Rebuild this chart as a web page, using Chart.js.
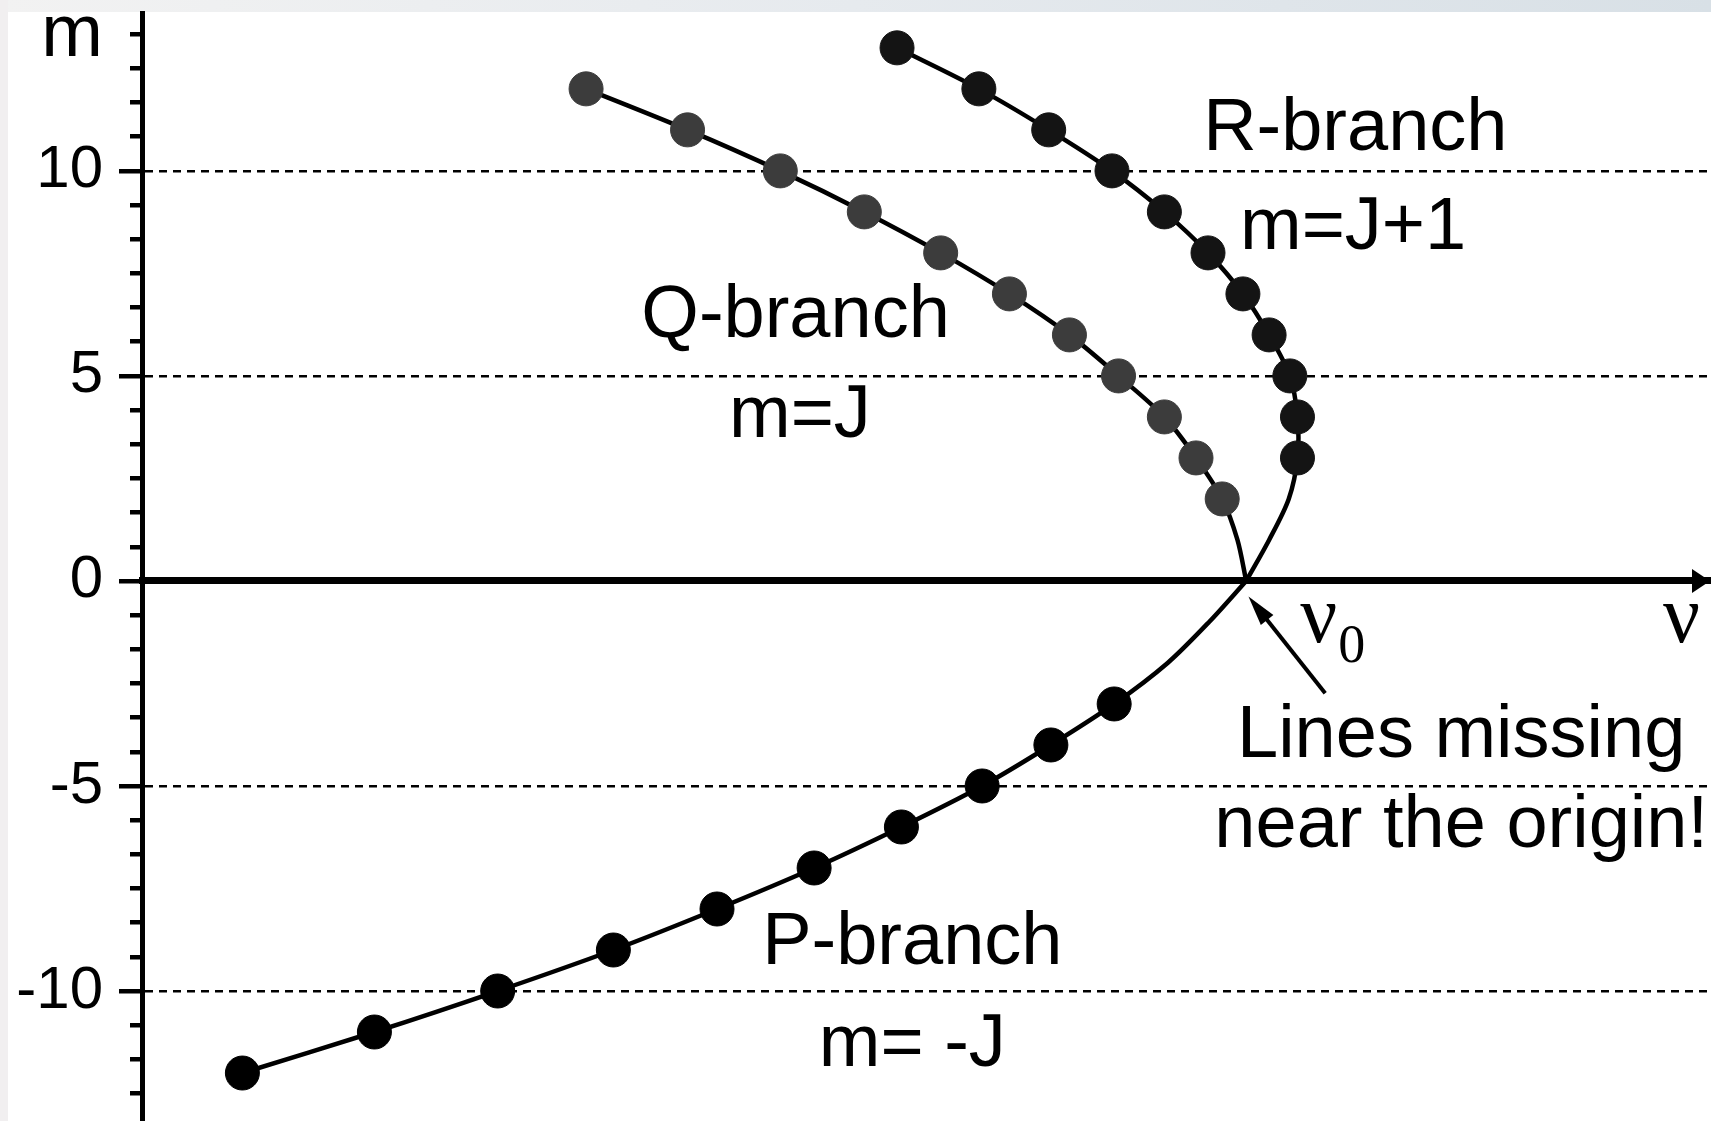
<!DOCTYPE html>
<html>
<head>
<meta charset="utf-8">
<script src="https://cdn.jsdelivr.net/npm/chart.js@4.4.1/dist/chart.umd.min.js"></script>
<style>
  html, body { margin: 0; padding: 0; background: #fff; }
</style>
</head>
<body>
<canvas id="branchChart" width="1711" height="1121"></canvas>
<script>
// m values and line positions (nu - nu0, arbitrary units) for each branch
var rBranchM = [13, 12, 11, 10, 9, 8, 7, 6, 5, 4, 3];
var rBranchNu = [-32.0, -24.5, -18.1, -12.3, -7.5, -3.5, -0.3, 2.1, 4.0, 4.7, 4.7];
var qBranchM = [12, 11, 10, 9, 8, 7, 6, 5, 4, 3, 2];
var qBranchNu = [-60.5, -51.2, -42.7, -35.0, -28.0, -21.7, -16.2, -11.7, -7.5, -4.6, -2.2];
var pBranchM = [-12, -11, -10, -9, -8, -7, -6, -5, -4, -3];
var pBranchNu = [-92.0, -79.9, -68.6, -58.0, -48.5, -39.6, -31.6, -24.2, -17.9, -12.1];

// where the curves run into the origin (no lines there)
var rGapM = [2, 1, 0];
var rGapNu = [3.9, 2.1, 0];
var qGapM = [1, 0];
var qGapNu = [-0.8, 0];
var pGapM = [-2, -1, 0];
var pGapNu = [-7.2, -3.4, 0];

var yTickLabels = [-10, -5, 0, 5, 10];
var yTickStep = 5 / 6;   // minor ticks: six per five units, as in the figure

var notes = [
  { text: 'R-branch', nu: 10.0, m: 10.5 },
  { text: 'm=J+1', nu: 9.8, m: 8.1 },
  { text: 'Q-branch', nu: -41.3, m: 5.95 },
  { text: 'm=J', nu: -40.9, m: 3.5 },
  { text: 'P-branch', nu: -30.6, m: -9.35 },
  { text: 'm= -J', nu: -30.6, m: -11.82 },
  { text: 'Lines missing', nu: 19.7, m: -4.3 },
  { text: 'near the origin!', nu: 19.7, m: -6.5 }
];
var nuLabels = [
  { sub: '0', nu: 4.95, m: -1.49 },
  { sub: '', nu: 38.2, m: -1.49 }
];
var pointer = { fromNu: 7.24, fromM: -2.74, toNu: 0.21, toM: -0.38 };

var yTicks = [];
for (var k = -15; k <= 16; k++) yTicks.push(Math.round(k * yTickStep * 1e6) / 1e6);

function isMajor(v) {
  var r = Math.round(v);
  return Math.abs(v - r) < 1e-6 && r % 5 === 0;
}

function toPoints(nu, m) {
  return nu.map(function (v, i) { return { x: v, y: m[i] }; });
}

function branch(label, nu, m, gapNu, gapM, color) {
  var n = nu.length;
  var radius = function (ctx) { return ctx.dataIndex < n ? 17 : 0; };
  return {
    label: label,
    data: toPoints(nu.concat(gapNu), m.concat(gapM)),
    showLine: true,
    borderColor: '#000',
    borderWidth: 4.5,
    tension: 0.3,
    pointRadius: radius,
    pointHoverRadius: radius,
    pointBackgroundColor: color,
    pointBorderColor: color,
    pointBorderWidth: 1
  };
}

var sans = '"Liberation Sans", Arial, sans-serif';
var serif = '"Liberation Serif", "DejaVu Serif", serif';

var decorations = {
  id: 'decorations',
  beforeDraw: function (chart) {
    var c = chart.ctx;
    c.save();
    c.fillStyle = '#fff';
    c.fillRect(0, 0, chart.width, chart.height);
    var g = c.createLinearGradient(0, 0, chart.width, 0);
    g.addColorStop(0, '#f2f2f2');
    g.addColorStop(0.5, '#e6eaee');
    g.addColorStop(1, '#d8e0e6');
    c.fillStyle = g;
    c.fillRect(0, 0, chart.width, 12);
    c.fillStyle = '#f1eff0';
    c.fillRect(0, 0, 8, chart.height);
    c.restore();
  },
  afterDraw: function (chart) {
    var c = chart.ctx;
    var xs = chart.scales.x, ys = chart.scales.y;
    var y0 = ys.getPixelForValue(0);
    c.save();
    c.fillStyle = '#000';
    c.strokeStyle = '#000';

    // arrow head on the nu axis
    var right = chart.chartArea.right - 1;
    c.beginPath();
    c.moveTo(right, y0);
    c.lineTo(right - 18, y0 - 12);
    c.lineTo(right - 18, y0 + 12);
    c.closePath();
    c.fill();

    // m axis label
    c.font = '74px ' + sans;
    c.textAlign = 'right';
    c.textBaseline = 'alphabetic';
    c.fillText('m', ys.right - 39, ys.getPixelForValue(12.8));

    // branch notes
    c.font = '74px ' + sans;
    c.textAlign = 'center';
    notes.forEach(function (n) {
      c.fillText(n.text, xs.getPixelForValue(n.nu), ys.getPixelForValue(n.m));
    });

    // nu and nu0
    c.textAlign = 'left';
    nuLabels.forEach(function (n) {
      var x = xs.getPixelForValue(n.nu), y = ys.getPixelForValue(n.m);
      c.font = '82px ' + serif;
      c.fillText('\u03bd', x, y);
      if (n.sub) {
        var w = c.measureText('\u03bd').width;
        c.font = '54px ' + serif;
        c.fillText(n.sub, x + w + 1, y + 20);
      }
    });

    // pointer to the origin
    var x1 = xs.getPixelForValue(pointer.fromNu), y1 = ys.getPixelForValue(pointer.fromM);
    var x2 = xs.getPixelForValue(pointer.toNu), y2 = ys.getPixelForValue(pointer.toM);
    var a = Math.atan2(y2 - y1, x2 - x1);
    var hl = 30, hw = 8;
    c.lineWidth = 4;
    c.beginPath();
    c.moveTo(x1, y1);
    c.lineTo(x2 - hl * 0.8 * Math.cos(a), y2 - hl * 0.8 * Math.sin(a));
    c.stroke();
    c.beginPath();
    c.moveTo(x2, y2);
    c.lineTo(x2 - hl * Math.cos(a) + hw * Math.sin(a), y2 - hl * Math.sin(a) - hw * Math.cos(a));
    c.lineTo(x2 - hl * Math.cos(a) - hw * Math.sin(a), y2 - hl * Math.sin(a) + hw * Math.cos(a));
    c.closePath();
    c.fill();
    c.restore();
  }
};

var ctx = document.getElementById('branchChart').getContext('2d');
var branchChart = new Chart(ctx, {
  type: 'scatter',
  data: {
    datasets: [
      branch('R-branch', rBranchNu, rBranchM, rGapNu, rGapM, '#141414'),
      branch('Q-branch', qBranchNu, qBranchM, qGapNu, qGapM, '#3c3c3c'),
      branch('P-branch', pBranchNu, pBranchM, pGapNu, pGapM, '#000000')
    ]
  },
  options: {
    responsive: false,
    devicePixelRatio: 1,
    animation: false,
    events: [],
    layout: { autoPadding: false, padding: { top: 13, left: 0, right: 0, bottom: 0 } },
    plugins: {
      legend: { display: false },
      tooltip: { enabled: false }
    },
    scales: {
      x: {
        type: 'linear',
        position: { y: 0 },
        min: -101.2,
        max: 42.6,
        ticks: { display: false },
        grid: { display: true, drawOnChartArea: false, drawTicks: false, lineWidth: 0 },
        border: { display: true, color: '#000', width: 7 }
      },
      y: {
        type: 'linear',
        position: 'left',
        min: -13.17,
        max: 13.85,
        bounds: 'data',
        afterBuildTicks: function (scale) {
          scale.ticks = yTicks.map(function (v) { return { value: v }; });
        },
        afterFit: function (scale) {
          scale.width = 142;
          scale.paddingTop = 0;
          scale.paddingBottom = 0;
        },
        ticks: {
          autoSkip: false,
          padding: 16,
          color: '#000',
          font: { family: sans, size: 60 },
          callback: function (v) {
            var r = Math.round(v);
            return (Math.abs(v - r) < 1e-6 && yTickLabels.indexOf(r) >= 0) ? String(r) : '';
          }
        },
        grid: {
          drawOnChartArea: true,
          drawTicks: true,
          tickLength: 23,
          tickWidth: 4.5,
          tickColor: '#000',
          tickBorderDash: function (c) { return isMajor(c.tick.value) ? [] : [0, 11, 12, 60]; },
          color: function (c) {
            var v = c.tick.value;
            return isMajor(v) && Math.abs(v) > 1e-6 ? '#000' : 'rgba(0,0,0,0)';
          },
          lineWidth: 2.5
        },
        border: { display: true, color: '#000', width: 5, dash: [8, 6] }
      }
    }
  },
  plugins: [decorations]
});
</script>
</body>
</html>
